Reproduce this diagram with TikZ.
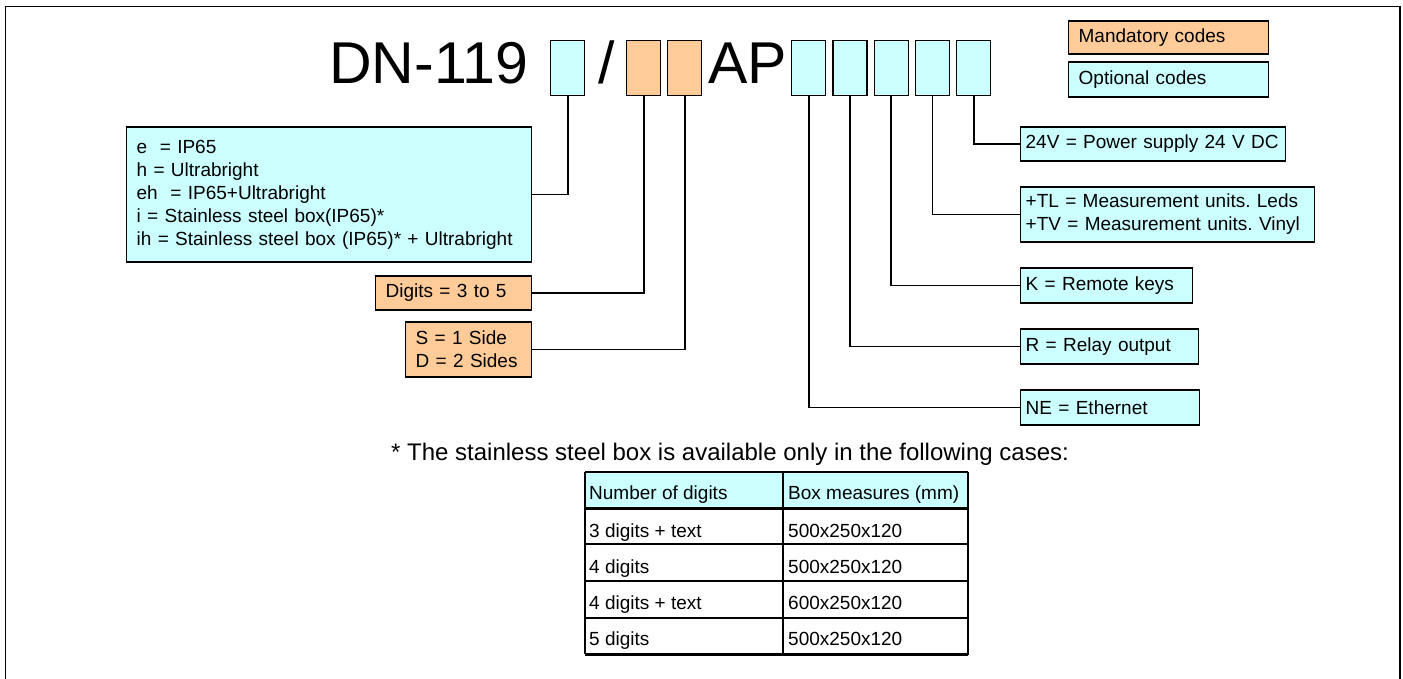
\documentclass[tikz,border=0pt]{standalone}
\usepackage{fontspec}
\setmainfont{Liberation Sans}
\frenchspacing
\definecolor{optcyan}{HTML}{CCFFFF}
\definecolor{mandorange}{HTML}{FFCC99}
\tikzset{
    optional/.style={draw=black,line width=1.3pt,fill=optcyan},
    mandatory/.style={draw=black,line width=1.3pt,fill=mandorange},
    codebox/.style={minimum width=34pt,minimum height=55pt,inner sep=0pt,anchor=north west},
    descbox/.style={anchor=west,align=left,inner xsep=5pt,inner ysep=0pt,font=\fontsize{19}{23}\selectfont},
    celltext/.style={anchor=base west,inner sep=0pt,font=\fontsize{19}{23}\selectfont},
    title/.style={anchor=base west,inner sep=0pt,font=\fontsize{59}{59}\selectfont},
    leader/.style={black,line width=1.8pt},
    gridline/.style={black,line width=1.3pt},
    thickgrid/.style={black,line width=3pt}
}

\begin{document}
\begin{tikzpicture}[x=1pt,y=-1pt]
\useasboundingbox (0,0) rectangle (1403,679);
\draw[line width=1.5pt] (5.5,679)--(5.5,6.5)--(1400,6.5)--(1400,679);
% code line
\node[title] (dn) at (329,84) {DN-119};
\node[title] (slash) at (598,84) {/};
\node[title] (ap) at (708,84) {AP};
\node[codebox,optional] (c1) at (550,40) {};
\node[codebox,mandatory] (c2) at (626,40) {};
\node[codebox,mandatory] (c3) at (667,40) {};
\foreach \i in {1,...,5}
    \node[codebox,optional] (o\i) at ({791+41.25*(\i-1)},40) {};
% legend
\node[descbox,mandatory,inner xsep=10pt,text width=180pt,minimum height=33pt] (legman) at (1068,37.5) {Mandatory codes};
\node[descbox,optional,inner xsep=10pt,text width=180pt,minimum height=35pt] (legopt) at (1068,79.5) {Optional codes};
% left descriptions
\node[descbox,optional,inner xsep=10pt,text width=385pt,minimum height=135pt] (dled) at (126,194.5)
    {e~ = IP65\\h = Ultrabright\\eh~ = IP65+Ultrabright\\i = Stainless steel box(IP65)*\\ih = Stainless steel box (IP65)* + Ultrabright};
\node[descbox,mandatory,inner xsep=10pt,text width=136pt,minimum height=34pt] (ddig) at (375,293) {Digits = 3 to 5};
\node[descbox,mandatory,inner xsep=10pt,text width=106pt,minimum height=55pt] (dside) at (405,349.5) {S = 1 Side\\D = 2 Sides};
% right descriptions
\node[descbox,optional,text width=255pt,minimum height=34pt] (dpow) at (1020,144) {24V = Power supply 24 V DC};
\node[descbox,optional,text width=284pt,minimum height=55pt] (dunit) at (1020,214.5) {+TL = Measurement units. Leds\\+TV = Measurement units. Vinyl};
\node[descbox,optional,text width=162pt,minimum height=35pt] (dkey) at (1020,285.5) {K = Remote keys};
\node[descbox,optional,text width=168pt,minimum height=35pt] (drel) at (1020,346.5) {R = Relay output};
\node[descbox,optional,text width=169pt,minimum height=35pt] (dnet) at (1020,407.5) {NE = Ethernet};
% leaders
\draw[leader] (c1.south) |- (dled.east);
\draw[leader] (c2.south) |- (ddig.east);
\draw[leader] (c3.south) |- (dside.east);
\foreach \i/\d in {1/dnet,2/drel,3/dkey,4/dunit,5/dpow}
    \draw[leader] (o\i.south) |- (\d.west);
% footnote and table
\node[anchor=base west,inner sep=0pt,font=\fontsize{24}{28}\selectfont] (note) at (391,460)
    {* The stainless steel box is available only in the following cases:};
\fill[optcyan] (585,472) rectangle (968,508);
\draw[gridline] (585,472)--(968,472);
\draw[gridline] (585,472)--(585,654);
\draw[gridline] (783,472)--(783,654);
\draw[thickgrid] (585,508)--(968,508);
\foreach \y in {544,581,618}
    \draw[black,line width=2pt] (585,\y)--(968,\y);
\draw[thickgrid] (585,654)--(968,654);
\draw[black,line width=2.5pt] (968,472)--(968,655);
\node[celltext] (h1) at (589,499) {Number of digits};
\node[celltext] (h2) at (788,499) {Box measures (mm)};
\foreach \r/\y/\a/\b in {1/537/3 digits + text/500x250x120,2/573/4 digits/500x250x120,3/609/4 digits + text/600x250x120,4/645/5 digits/500x250x120}{
    \node[celltext] (r\r a) at (589,\y) {\a};
    \node[celltext] (r\r b) at (788,\y) {\b};
}
\end{tikzpicture}
\end{document}
